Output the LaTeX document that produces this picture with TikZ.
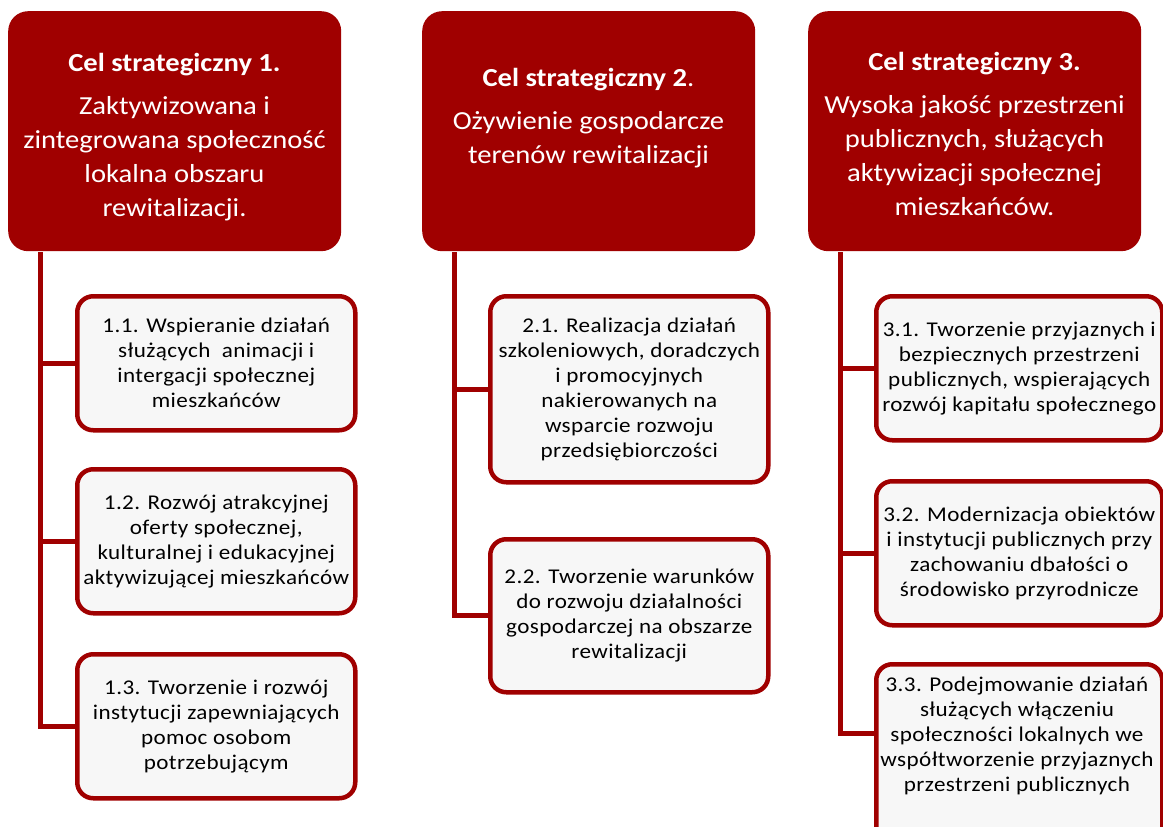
\documentclass[tikz,border=0pt]{standalone}
\usepackage{fontspec}
\setmainfont{Carlito}[FakeStretch=1.1]
\definecolor{cred}{HTML}{A00000}
\definecolor{cfill}{HTML}{F7F7F7}
\tikzset{
  hdr/.style={rounded corners=20pt, fill=cred, draw=none, minimum width=333pt, minimum height=240pt, anchor=north west, inner sep=0pt},
  htext/.style={text=white, align=center, font=\fontsize{26pt}{34pt}\selectfont, inner sep=0pt, anchor=north},
  subfont/.style={font=\addfontfeature{LetterSpace=2}\fontsize{21pt}{25pt}\selectfont},
  sub/.style={rounded corners=16pt, draw=cred, line width=4.5pt, fill=cfill, anchor=north west, align=center, inner sep=0pt, subfont},
  trunk/.style={draw=cred, line width=5pt}
}
\begin{document}
\begin{tikzpicture}[x=1pt,y=-1pt]
\useasboundingbox (0,0) rectangle (1163,827);
\begin{scope}
\clip (0,0) rectangle (1163,827);
% headers
\node[hdr] (h1) at (8,11) {};
\node[hdr] (h2) at (422,11) {};
\node[hdr] (h3) at (808,11) {};
\node[htext] (t1) at (174.5,53) {\textbf{Cel strategiczny 1.}\\[9pt]Zaktywizowana i\\zintegrowana społeczność\\lokalna obszaru\\rewitalizacji.};
\node[htext] (t2) at (588.5,68) {\textbf{Cel strategiczny 2}.\\[9pt]Ożywienie gospodarcze\\terenów rewitalizacji};
\node[htext] (t3) at (974.5,52) {\textbf{Cel strategiczny 3.}\\[9pt]Wysoka jakość przestrzeni\\publicznych, służących\\aktywizacji społecznej\\mieszkańców.};
% sub boxes column 1
\node[sub, minimum width=278pt, minimum height=134pt] (b11) at (75,294) {1.1. Wspieranie działań\\służących\ \ animacji i\\intergacji społecznej\\mieszkańców};
\node[sub, minimum width=278pt, minimum height=144pt] (b12) at (75,467) {1.2. Rozwój atrakcyjnej\\oferty społecznej,\\kulturalnej i edukacyjnej\\aktywizującej mieszkańców};
\node[sub, minimum width=278pt, minimum height=144pt] (b13) at (75,652) {1.3. Tworzenie i rozwój\\instytucji zapewniających\\pomoc osobom\\potrzebującym};
% column 2
\node[sub, minimum width=278pt, minimum height=186pt] (b21) at (488,294) {2.1. Realizacja działań\\szkoleniowych, doradczych\\i promocyjnych\\nakierowanych na\\wsparcie rozwoju\\przedsiębiorczości};
\node[sub, minimum width=278pt, minimum height=153pt] (b22) at (488,537) {2.2. Tworzenie warunków\\do rozwoju działalności\\gospodarczej na obszarze\\rewitalizacji};
% column 3
\node[sub, minimum width=286pt, minimum height=144pt] (b31) at (874,294) {3.1. Tworzenie przyjaznych i\\bezpiecznych przestrzeni\\publicznych, wspierających\\rozwój kapitału społecznego};
\node[sub, minimum width=286pt, minimum height=144pt] (b32) at (874,479) {3.2. Modernizacja obiektów\\i instytucji publicznych przy\\zachowaniu dbałości o\\środowisko przyrodnicze};
\node[sub, minimum width=286pt, minimum height=180pt] (b33) at (874,662) {};
\node[subfont, align=center, anchor=north, inner sep=0pt] (b33t) at (1017,677) {3.3. Podejmowanie działań\\służących włączeniu\\społeczności lokalnych we\\współtworzenie przyjaznych\\przestrzeni publicznych};
% trunks
\coordinate (c1) at (40,252);
\coordinate (c2) at (454,252);
\coordinate (c3) at (840,252);
\coordinate (e3) at (874,733);
\draw[trunk] (c1) |- (b13.west);
\draw[trunk] (c1 |- b11.west) -- (b11.west);
\draw[trunk] (c1 |- b12.west) -- (b12.west);
\draw[trunk] (c2) |- (b22.west);
\draw[trunk] (c2 |- b21.west) -- (b21.west);
\draw[trunk] (c3) |- (e3);
\draw[trunk] (c3 |- b31.west) -- (b31.west);
\draw[trunk] (c3 |- b32.west) -- (b32.west);
\end{scope}
\end{tikzpicture}
\end{document}
